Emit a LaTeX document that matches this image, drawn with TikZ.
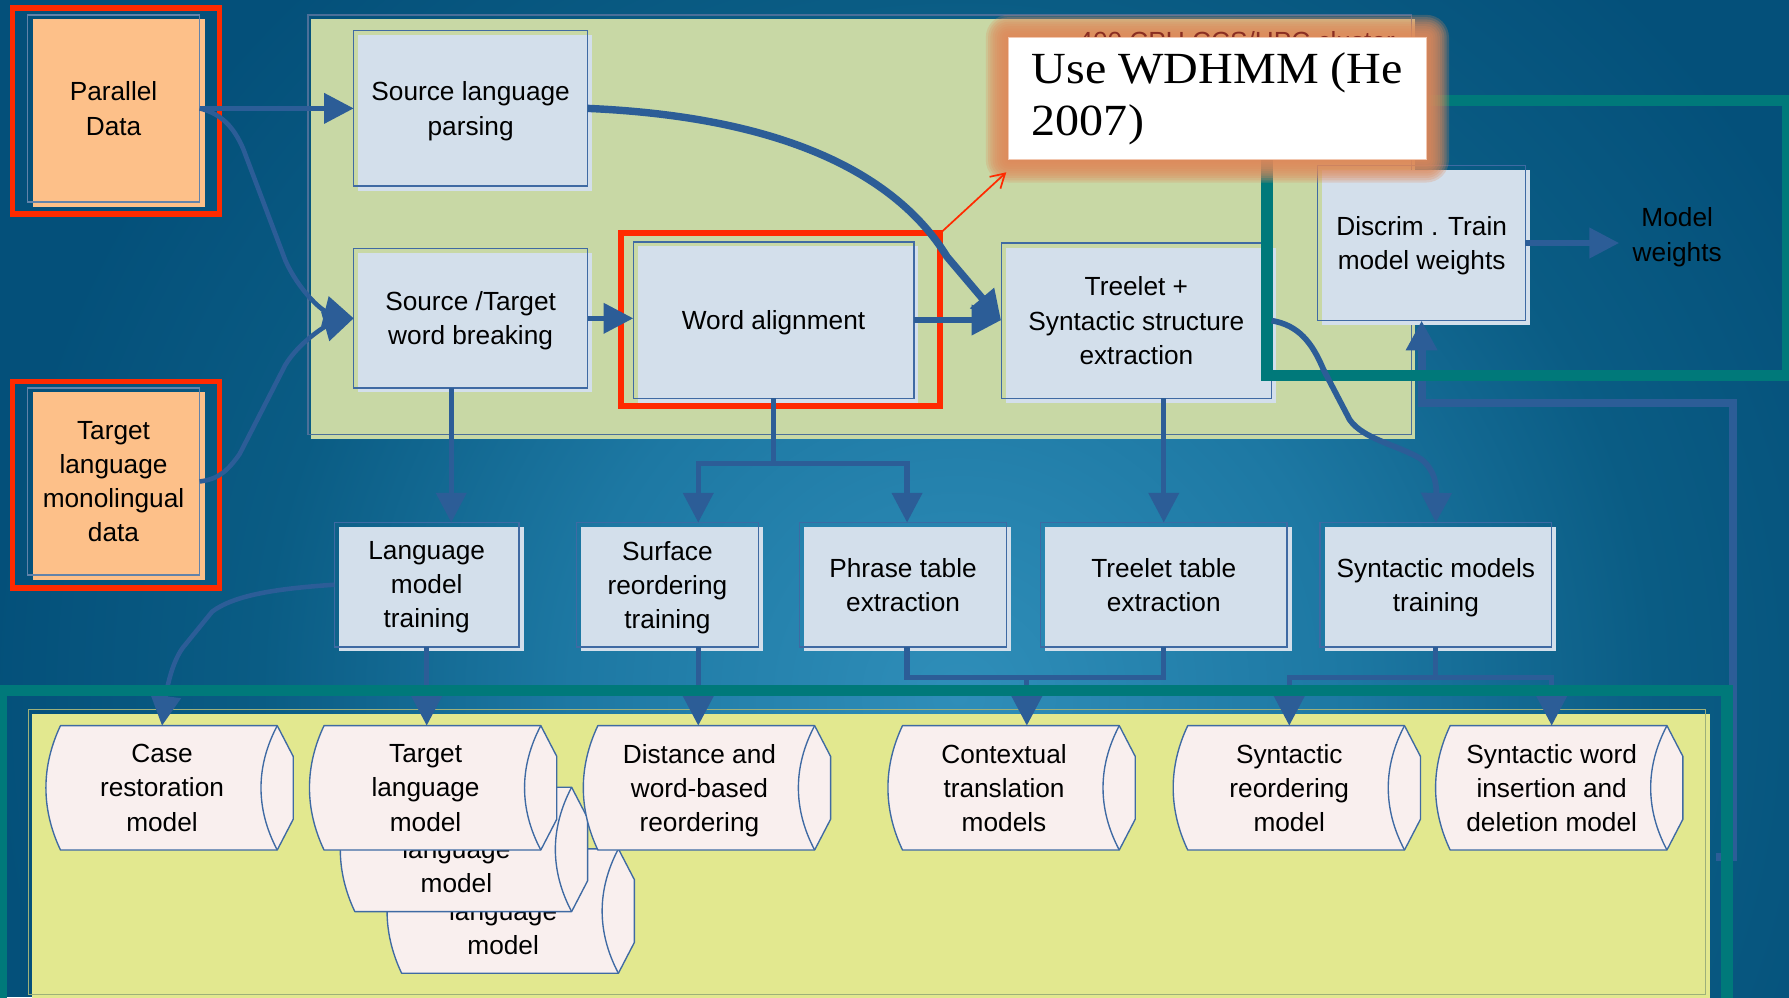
\documentclass[tikz,border=0pt]{standalone}
\usepackage{fontspec}
\setmainfont{Liberation Sans}
\newfontfamily\cofont{Liberation Serif}[FakeStretch=1.08]
\usetikzlibrary{arrows.meta,shadows}
\definecolor{bgc0}{HTML}{2F8EB9}
\definecolor{bgc1}{HTML}{1D78A3}
\definecolor{bgc2}{HTML}{0A5C84}
\definecolor{bgc3}{HTML}{04507A}
\definecolor{tealc}{HTML}{00797A}
\definecolor{panelgreen}{HTML}{C8D8A5}
\definecolor{panelline}{HTML}{4B6F99}
\definecolor{panelyellow}{HTML}{E2E88F}
\definecolor{yline}{HTML}{9DB07A}
\definecolor{boxfill}{HTML}{D3DFEB}
\definecolor{boxline}{HTML}{3F6AA3}
\definecolor{orangec}{HTML}{FDC089}
\definecolor{oline}{HTML}{6283AA}
\definecolor{redc}{HTML}{FF2A00}
\definecolor{cblue}{HTML}{2C5D97}
\definecolor{storefill}{HTML}{F9EFEE}
\definecolor{clusterred}{HTML}{8A2E22}
\definecolor{glowc}{HTML}{E0895A}
\definecolor{coline}{HTML}{F2C7B0}
\pgfdeclareradialshading{bgshade}{\pgfpoint{0bp}{0bp}}{color(0bp)=(bgc0); color(10bp)=(bgc1); color(18bp)=(bgc2); color(25bp)=(bgc3); color(50bp)=(bgc3)}
\newcommand{\fs}{\fontsize{23}{30}\selectfont}
% stored-data shape: #1 name, #2 left x, #3 top y, #4 text
\newcommand{\stshape}[4]{%
  \path[stfill] ({#2+13},{#3}) -- ({#2+203},{#3}) -- ({#2+217},{#3+27}) -- ({#2+217},{#3+82})
     -- ({#2+203},{#3+109}) -- ({#2+13},{#3+109}) .. controls ({#2-4},{#3+73}) and ({#2-4},{#3+36}) .. cycle;
  \draw[stline] ({#2+203},{#3}) .. controls ({#2+184},{#3+36}) and ({#2+184},{#3+73}) .. ({#2+203},{#3+109});
  \node[sttext] (#1) at ({#2+102},{#3+54.5}) {#4};
}
\begin{document}
\begin{tikzpicture}[x=1pt,y=-1pt,
  lbox/.style={draw=boxline, line width=1.2pt, general shadow={fill=boxfill, shadow xshift=4pt, shadow yshift=-4pt}, inner sep=0pt, outer sep=0pt, align=center, font=\fs, text depth=0pt},
  obox/.style={draw=oline, line width=1.2pt, general shadow={fill=orangec, shadow xshift=5pt, shadow yshift=-4pt}, inner sep=0pt, outer sep=0pt, align=center, font=\fs, text depth=0pt},
  redbox/.style={draw=redc, line width=5pt, inner sep=0pt, outer sep=0pt},
  conn/.style={draw=cblue, line width=4.5pt, -{Triangle[length=26pt,width=26pt]}},
  cline/.style={draw=cblue, line width=4.5pt},
  tealline/.style={draw=tealc, line width=10pt},
  stfill/.style={fill=storefill, draw=boxline, line width=1.2pt, line join=round},
  stline/.style={draw=boxline, line width=1.2pt},
  sttext/.style={minimum width=200pt, minimum height=109pt, inner sep=0pt, outer sep=0pt, align=center, font=\fs, text depth=0pt}
]
\useasboundingbox (0,0) rectangle (1568,874);
\clip (0,0) rectangle (1568,874);
% background
\fill[bgc3] (0,0) rectangle (1568,874);
\shade[shading=bgshade] (840,610) circle (850);

% top cluster panel
\fill[panelgreen] (273,17) rectangle (1240,385);
\draw[panelline, line width=1.2pt] (270,13) rectangle (1237,381);

% input data boxes
\node[obox, minimum width=151pt, minimum height=164pt] (PD) at (99.5,95) {Parallel\\Data};
\node[obox, minimum width=151pt, minimum height=164pt] (TD) at (99.5,422) {Target\\language\\monolingual\\data};
\node[redbox, minimum width=181.5pt, minimum height=180.5pt] (PDr) at (101.75,97.25) {};
\node[redbox, minimum width=181.5pt, minimum height=181pt] (TDr) at (101.75,425) {};

% processing boxes
\node[lbox, minimum width=205pt, minimum height=136pt] (SLP) at (412.5,95) {Source language\\parsing};
\node[lbox, minimum width=205pt, minimum height=122pt] (SWB) at (412.5,279) {Source /Target\\word breaking};
\node[lbox, minimum width=246pt, minimum height=137pt] (WA) at (678,280.5) {Word alignment};
\node[redbox, minimum width=279.5pt, minimum height=151.5pt] (WAr) at (684.25,280.25) {};
\node[lbox, minimum width=237pt, minimum height=136pt] (TSE) at (996,281) {Treelet +\\Syntactic structure\\extraction};
\node[lbox, minimum width=182pt, minimum height=136pt] (DT) at (1246,213) {Discrim . Train\\model weights};

% training boxes
\node[lbox, minimum width=162pt, minimum height=109pt] (LMT) at (374,512.5) {Language\\model\\training};
\node[lbox, minimum width=160pt, minimum height=109pt] (SRT) at (585,512.5) {Surface\\reordering\\training};
\node[lbox, minimum width=181pt, minimum height=109pt] (PTE) at (791.5,512.5) {Phrase table\\extraction};
\node[lbox, minimum width=216pt, minimum height=109pt] (TTE) at (1020,512.5) {Treelet table\\extraction};
\node[lbox, minimum width=203pt, minimum height=109pt] (SMT) at (1258.5,512.5) {Syntactic models\\training};

% model panel
\fill[panelyellow] (28,626) rectangle (1499,880);
\draw[yline, line width=1pt] (25,622) rectangle (1495,872);

% models
\stshape{CR}{40}{636}{Case\\restoration\\model}
\stshape{TLMc}{339}{744}{Target\\language\\model}
\stshape{TLMb}{298}{690}{Target\\language\\model}
\stshape{TLM}{271}{636}{Target\\language\\model}
\stshape{DWR}{511}{636}{Distance and\\word-based\\reordering}
\stshape{CTM}{778}{636}{Contextual\\translation\\models}
\stshape{SRM}{1028}{636}{Syntactic\\reordering\\model}
\stshape{SWM}{1258}{636}{Syntactic word\\insertion and\\deletion model}

% output label
\node[font=\fs, align=center, inner sep=0pt, outer sep=12pt] (MW) at (1470,208) {Model\\weights};

% junction coordinates
\coordinate (waj) at (678,406);
\coordinate (cj) at (900,594);
\coordinate (sj) at (1258.5,594);
\coordinate (rj) at (1504,751);
\coordinate (rc) at (1519,353);

% long return line into discriminative training
\draw[conn, line width=7pt] (rj) -| (rc) -| (DT.south);

% connectors
\draw[conn] (PD.east) -- (SLP.west);
\draw[conn, line width=4pt] (PD.east) .. controls (195,100) and (205,112) .. (213,130) -- (250,228) .. controls (262,255) and (282,272) .. (SWB.west);
\draw[conn, line width=4pt] (TD.east) .. controls (192,420) and (200,412) .. (210,398) -- (250,320) .. controls (262,300) and (285,286) .. (SWB.west);
\draw[conn, line width=6.5pt] (SLP.east) .. controls (700,103) and (790,160) .. (830,225) -- (TSE.west);
\draw[conn] (SWB.east) -- (SWB.east -| WA.west);
\draw[conn] (WA.east) -- (WA.east -| TSE.west);
\draw[conn] (DT.east) -- (DT.east -| MW.west);
\draw[conn] ([xshift=-17pt]SWB.south) -- ([xshift=-17pt]SWB.south |- LMT.north);
\draw[cline] (WA.south) -- (waj);
\draw[conn] (waj) -| ([xshift=27pt]SRT.north);
\draw[conn] (waj) -| ([xshift=3.5pt]PTE.north);
\draw[conn] (TSE.south -| TTE.north) -- (TTE.north);
\draw[conn, line width=4pt] (LMT.west) .. controls (240,516) and (205,522) .. (186,536) -- (160,568) .. controls (150,582) and (146,605) .. (CR.north);
\draw[conn] (LMT.south) -- (LMT.south |- TLM.north);
\draw[conn] ([xshift=27pt]SRT.south) -- ([xshift=27pt]SRT.south |- DWR.north);
\draw[cline] ([xshift=3.5pt]PTE.south) |- (cj) -| (TTE.south);
\draw[conn] (cj) -- (cj |- CTM.north);
\draw[cline] (SMT.south) -- (sj);
\draw[conn] (sj) -| (SRM.north);
\draw[conn] (sj) -| (SWM.north);

% teal groupings
\draw[tealline] (1110.5,88) rectangle (1567,329);
\draw[tealline] (1,605) rectangle (1513.5,900);

\draw[conn, line width=5pt] (TSE.east) .. controls (1138,285) and (1150,300) .. (1160,324) -- (1183,368) .. controls (1195,385) and (1225,390) .. (1245,402) .. controls (1258,412) and (1259,425) .. (SMT.north);

% callout glow
\foreach \i [evaluate=\i as \d using 2*\i] in {1,...,10}{
  \fill[glowc, fill opacity=0.24, rounded corners=\d pt] ({884-\d},{33-\d}) rectangle ({1250+\d},{140+\d});
}
\node[anchor=north west, inner sep=0pt, text=clusterred, font=\fontsize{23}{28}\selectfont] (CL) at (945,27) {400 CPU CCS/HPC cluster};
\node[anchor=north west, fill=white, draw=coline, line width=1pt, minimum width=366pt, minimum height=107pt,
      inner xsep=0pt, inner ysep=0pt, align=left, outer sep=0pt,
      font=\cofont\fontsize{39}{45}\selectfont] (CO) at (884,33) {Use WDHMM (He\\2007)};
\draw[redc, line width=1.5pt, -{Straight Barb[length=12pt,width=14pt]}] (WAr.north east) -- ([shift={(-2pt,-11pt)}]CO.south west);
\end{tikzpicture}
\end{document}
